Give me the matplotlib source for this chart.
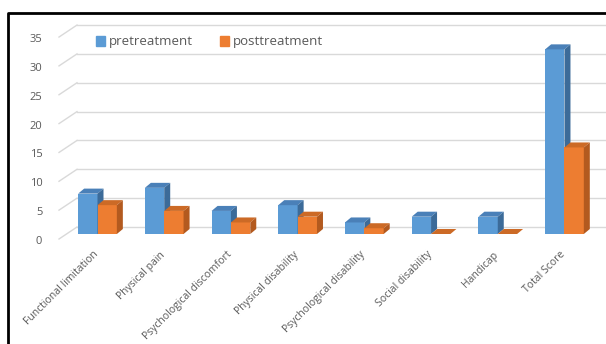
import numpy as np
import matplotlib
matplotlib.use('Agg')
import matplotlib.pyplot as plt
from matplotlib.patches import Polygon, Patch
from matplotlib.lines import Line2D
from matplotlib.transforms import ScaledTranslation

plt.rcParams['font.family'] = ['Open Sans', 'DejaVu Sans']

categories = ['Functional limitation', 'Physical pain', 'Psychological discomfort',
              'Physical disability', 'Psychological disability', 'Social disability',
              'Handicap', 'Total Score']
pretreatment = [7, 8, 4, 5, 2, 3, 3, 32]
posttreatment = [5, 4, 2, 3, 1, 0, 0, 15]
yticks = [0, 5, 10, 15, 20, 25, 30, 35]

blue = ('#5B9BD5', '#4A80B8', '#3C6B99')    # front, top, side
orange = ('#ED7D31', '#CC6A26', '#B35A1F')
grey_text = '#595959'

W, H = 606, 344
fig = plt.figure(figsize=(W / 100, H / 100), dpi=100)
# axes: left edge at px 59, bottom (value 0 of bars) at px 234 from top
ax = fig.add_axes([59 / W, (H - 234) / H, (W - 59) / W, (234 - 13) / H])
ppx = 66.71          # pixels per category
ppy = 5.77           # pixels per unit
ax.set_xlim((59 - 97.5) / ppx, (W - 97.5) / ppx)
ax.set_ylim(0, (234 - 13) / ppy)
for s in ax.spines.values():
    s.set_visible(False)

px = 1 / ppx
py = 1 / ppy
x = np.arange(len(categories))
bw = 0.29
dx, dy = 6 * px, 5 * py

# back wall gridlines + floor diagonals
x_left = ax.get_xlim()[0]
for v in yticks:
    ax.plot([x_left + 18 * px, ax.get_xlim()[1]], [v + 7 * py] * 2,
            color='#D9D9D9', lw=1, zorder=0, clip_on=False)
    ax.plot([x_left, x_left + 18 * px], [v - 5 * py, v + 7 * py],
            color='#D9D9D9', lw=1, zorder=0, clip_on=False)


def bars3d(xs, vals, cols, z):
    ax.bar(xs, vals, bw, color=cols[0], lw=0, zorder=z, clip_on=False)
    for xc, v in zip(xs, vals):
        x0, x1 = xc - bw / 2, xc + bw / 2
        top = [(x0, v), (x1, v), (x1 + dx, v + dy), (x0 + dx, v + dy)]
        side = [(x1, 0), (x1, v), (x1 + dx, v + dy), (x1 + dx, dy)]
        ax.add_patch(Polygon(top, closed=True, color=cols[1], lw=0, zorder=z, clip_on=False))
        ax.add_patch(Polygon(side, closed=True, color=cols[2], lw=0, zorder=z, clip_on=False))


bars3d(x - bw / 2, pretreatment, blue, 2)
bars3d(x + bw / 2, posttreatment, orange, 3)

ax.set_yticks(yticks)
ax.tick_params(axis='y', length=0, pad=12, labelsize=8, labelcolor=grey_text)
for lab in ax.get_yticklabels():
    lab.set_transform(lab.get_transform() + ScaledTranslation(0, -0.06, fig.dpi_scale_trans))

ax.set_xticks(x - 0.07)
ax.set_xticklabels(categories, rotation=45, ha='right', rotation_mode='anchor')
ax.tick_params(axis='x', length=0, pad=11, labelsize=7.5, labelcolor=grey_text)

handles = [Patch(color=blue[0], label='pretreatment'),
           Patch(color=orange[0], label='posttreatment')]
fig.legend(handles=handles, loc='center left', bbox_to_anchor=(96 / W, 1 - 42 / H),
           ncol=2, frameon=False, fontsize=9.5, labelcolor=grey_text,
           handlelength=0.7, handleheight=0.7, handletextpad=0.3,
           columnspacing=2.0, borderpad=0, borderaxespad=0)

# black frame around the picture (left and top visible)
fig.add_artist(Line2D([8 / W, 8 / W, 1], [0, 1 - 13 / H, 1 - 13 / H],
                      transform=fig.transFigure, color='black', lw=2))

fig.savefig('out.png', dpi=100)
